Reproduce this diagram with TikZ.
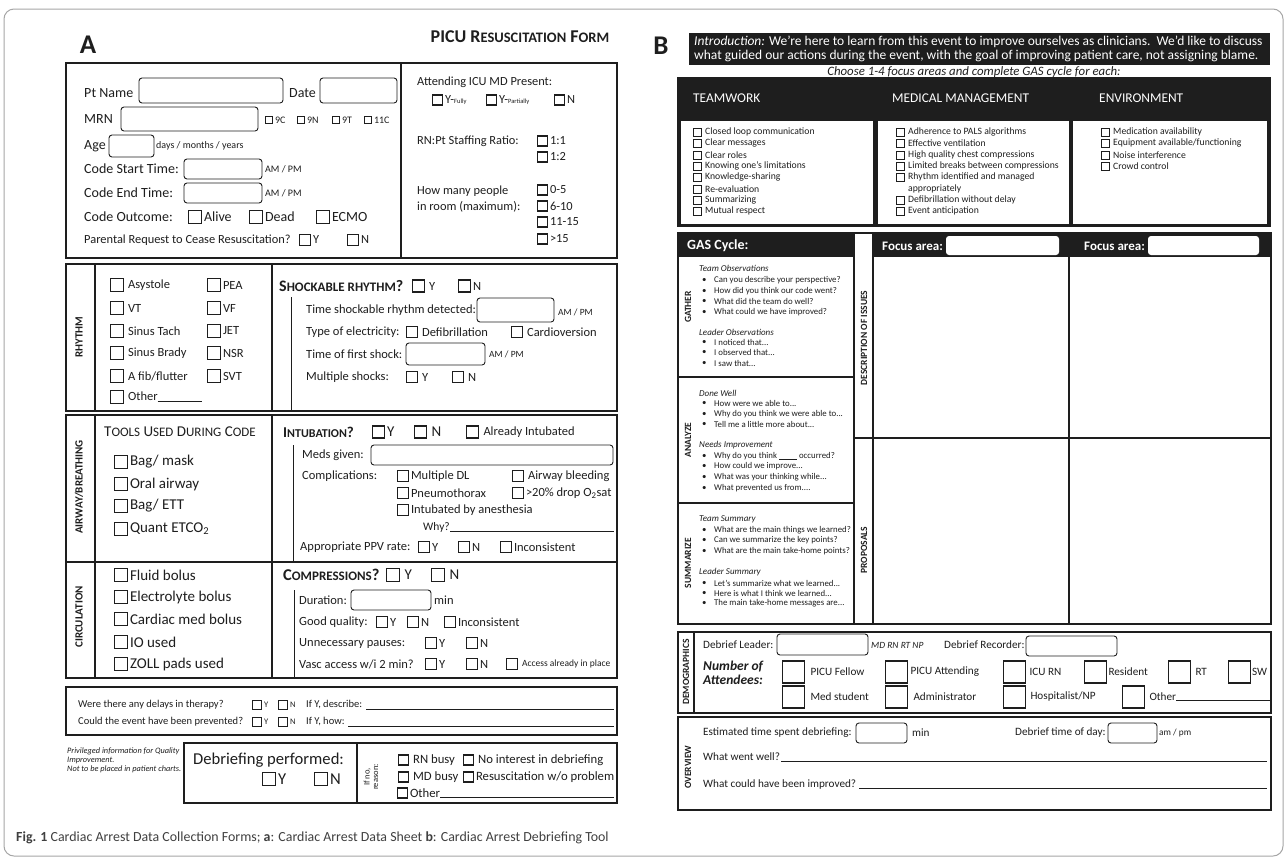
\documentclass[tikz,border=0pt]{standalone}
\usepackage{fontspec}
\setmainfont{Carlito}
\usepackage{xcolor}
\usepackage{tikz}

\definecolor{ink}{HTML}{1E1E1E}

\newcommand{\fz}[1]{\fontsize{#1}{#1}\selectfont}
\newcommand{\smc}[2]{{\fz{#1}#2}}
\newcommand{\chkbox}[4][9]{\node[ckb, minimum size=#1pt] (ck) at (#2,#3) {};
	\node[txt] at ([xshift=1.5pt]ck.east) {#4};}
\newcommand{\infield}[4]{\draw[fld] (#1,#2) rectangle (#3,#4);}
\newcommand{\blt}[2]{\node[txt] at (702,#1) {\textbullet}; \node[txt] at (714,#1) {#2};}

\tikzset{
	txt/.style={anchor=west, inner sep=0pt, text=ink},
	ckb/.style={draw=ink, line width=1.3pt, inner sep=0pt, anchor=west},
	fld/.style={draw=ink, line width=0.9pt, rounded corners=3pt},
	frm/.style={draw=ink, line width=1.6pt},
	side/.style={rotate=90, inner sep=0pt, text=ink, font=\bfseries\fz{11}},
	bigbox/.style={draw=ink, line width=1.3pt, inner sep=0pt, minimum size=22pt, anchor=west}
}

\begin{document}
\begin{tikzpicture}[x=1pt, y=-1pt]
				\useasboundingbox (0,0) rectangle (1287,860);
				\fill[white] (0,0) rectangle (1287,860);
				\draw[gray!70, line width=1pt, rounded corners=10pt] (4,9) rectangle (1283,856);
				
				%Form A
				\node[text=ink, font=\bfseries\fz{27}] at (88,45) {A};
				\node[text=ink, font=\bfseries\fz{18}] at (520,37) {PICU R\smc{14.5}{ESUSCITATION} F\smc{14.5}{ORM}};
				
				%Patient box
				\draw[frm] (66,63) rectangle (617,258);
				\draw[frm] (401,63) -- (401,258);
				\begin{scope}[font=\fz{14}]
					\node[txt] at (84,93) {Pt Name};
					\infield{139}{78}{283}{103}
					\node[txt] at (289,93) {Date};
					\infield{320}{78}{397}{103}
					\node[txt] at (84,119) {MRN};
					\infield{121}{107}{258}{131}
					\node[txt] at (84,146) {Age};
					\infield{109}{135}{154}{157}
					\node[txt] at (84,169) {Code Start Time:};
					\infield{184}{159}{262}{179}
					\node[txt] at (84,193) {Code End Time:};
					\infield{184}{183}{262}{203}
					\node[txt] at (84,217) {Code Outcome:};
					\chkbox[13]{188}{217}{Alive}
					\chkbox[13]{249}{217}{Dead}
					\chkbox[13]{316}{217}{ECMO}
				\end{scope}
				\begin{scope}[font=\fz{10}]
					\chkbox[7]{265}{120}{9C}
					\chkbox[7]{297}{120}{9N}
					\chkbox[7]{332}{120}{9T}
					\chkbox[7]{364}{120}{11C}
					\node[txt] at (156,146) {days / months / years};
					\node[txt] at (265,169) {AM / PM};
					\node[txt] at (265,193) {AM / PM};
				\end{scope}
				\begin{scope}[font=\fz{12.4}]
					\node[txt] at (84,240) {Parental Request to Cease Resuscitation?};
					\chkbox[11]{299}{240}{Y}
					\chkbox[11]{347}{240}{N}
				\end{scope}
				\begin{scope}[font=\fz{12.4}]
					\node[txt] at (417,82) {Attending ICU MD Present:};
					\chkbox[10]{432}{100}{Y-{\fz{6.5}Fully}}
					\chkbox[10]{486}{100}{Y-{\fz{6.5}Partially}}
					\chkbox[10]{554}{100}{N}
					\node[txt] at (417,141) {RN:Pt Staffing Ratio:};
					\chkbox[10]{537}{141}{1:1}
					\chkbox[10]{537}{157}{1:2}
					\node[txt] at (417,191) {How many people};
					\node[txt] at (417,207) {in room (maximum):};
					\chkbox[10]{537}{190}{0-5}
					\chkbox[10]{537}{206}{6-10}
					\chkbox[10]{537}{222}{11-15}
					\chkbox[10]{537}{239}{>15}
				\end{scope}
				
				%Rhythm
				\draw[frm] (66,264) rectangle (617,411);
				\draw[frm] (95,264) -- (95,411);
				\draw[frm, line width=2.4pt] (272,264) -- (272,411);
				\node[side] at (79,337) {RHYTHM};
				\begin{scope}[font=\fz{12.5}]
					\chkbox[13]{110}{285}{\,Asystole}
					\chkbox[13]{110}{308}{\,VT}
					\chkbox[13]{110}{331}{\,Sinus Tach}
					\chkbox[13]{110}{353}{\,Sinus Brady}
					\chkbox[13]{110}{376}{\,A fib/flutter}
					\chkbox[13]{110}{397}{\,Other\rule[-1pt]{44pt}{0.6pt}}
					\chkbox[13]{207}{285}{PEA}
					\chkbox[13]{207}{308}{VF}
					\chkbox[13]{207}{331}{JET}
					\chkbox[13]{207}{353}{NSR}
					\chkbox[13]{207}{376}{SVT}
					\node[txt, font=\bfseries\fz{16}] at (279,286) {S\smc{13}{HOCKABLE RHYTHM}?};
					\chkbox[12]{412}{286}{\,Y}
					\chkbox[12]{458}{286}{N}
				\end{scope}
				\draw[ink, line width=1pt] (291,297) -- (291,411);
				\begin{scope}[font=\fz{12.5}]
					\node[txt] at (306,310) {Time shockable rhythm detected:};
					\infield{477}{298}{554}{322}
					\node[txt, font=\fz{9.5}] at (558,312) {AM / PM};
					\node[txt] at (306,332) {Type of electricity:};
					\chkbox[11]{406}{332}{\,Defibrillation}
					\chkbox[11]{511}{332}{\,Cardioversion}
					\node[txt] at (306,354) {Time of first shock:};
					\infield{406}{343}{485}{365}
					\node[txt, font=\fz{9.5}] at (489,354) {AM / PM};
					\node[txt] at (306,377) {Multiple shocks:};
					\chkbox[11]{406}{377}{\,Y}
					\chkbox[11]{452}{377}{\,N}
				\end{scope}
				
				%Airway and circulation
				\draw[frm] (66,415) rectangle (617,678);
				\draw[frm] (66,562) -- (617,562);
				\draw[frm] (95,415) -- (95,678);
				\draw[frm, line width=2.4pt] (272,415) -- (272,678);
				\node[side] at (79,487) {AIRWAY/BREATHING};
				\node[side] at (79,617) {CIRCULATION};
				\begin{scope}[font=\fz{15}]
					\node[txt] at (104,432) {T\smc{13}{OOLS} U\smc{13}{SED} D\smc{13}{URING} C\smc{13}{ODE}};
					\chkbox[13]{114}{462}{Bag/ mask}
					\chkbox[13]{114}{484}{Oral airway}
					\chkbox[13]{114}{506}{Bag/ ETT}
					\chkbox[13]{114}{529}{Quant ETCO\textsubscript{2}}
					\chkbox[13]{114}{575}{Fluid bolus}
					\chkbox[13]{114}{597}{Electrolyte bolus}
					\chkbox[13]{114}{619}{Cardiac med bolus}
					\chkbox[13]{114}{642}{IO used}
					\chkbox[13]{114}{664}{ZOLL pads used}
					\node[txt, font=\bfseries\fz{15}] at (283,432) {I\smc{12}{NTUBATION}?};
					\chkbox[12]{372}{432}{Y}
					\chkbox[12]{414}{432}{\,N}
					\chkbox[12]{466}{432}{\,{\fz{12.5}Already Intubated}}
					\node[txt, font=\bfseries\fz{16.5}] at (283,575) {C\smc{13}{OMPRESSIONS}?};
					\chkbox[13]{386}{575}{\,Y}
					\chkbox[13]{431}{575}{\,N}
				\end{scope}
				\draw[ink, line width=1pt] (293,445) -- (293,562);
				\draw[ink, line width=1pt] (294,590) -- (294,678);
				\begin{scope}[font=\fz{12.5}]
					\node[txt] at (302,455) {Meds given:};
					\infield{371}{445}{613}{465}
					\node[txt] at (302,476) {Complications:};
					\chkbox[11]{397}{476}{Multiple DL}
					\chkbox[11]{512}{476}{\,Airway bleeding}
					\chkbox[11]{397}{493}{Pneumothorax}
					\chkbox[11]{512}{493}{>20\% drop O\textsubscript{2}sat}
					\chkbox[11]{397}{510}{Intubated by anesthesia}
					\node[txt, font=\fz{11.5}] at (423,527) {Why?};
					\draw[ink, line width=0.6pt] (450,531) -- (614,531);
					\node[txt] at (300,547) {Appropriate PPV rate:};
					\chkbox[11]{418}{547}{Y}
					\chkbox[11]{458}{547}{N}
					\chkbox[11]{500}{547}{Inconsistent}
					\node[txt] at (299,600) {Duration:};
					\infield{351}{590}{431}{610}
					\node[txt] at (434,600) {min};
					\node[txt] at (299,622) {Good quality:};
					\chkbox[11]{376}{622}{Y}
					\chkbox[11]{407}{622}{N}
					\chkbox[11]{444}{622}{Inconsistent}
					\node[txt] at (299,643) {Unnecessary pauses:};
					\chkbox[11]{425}{643}{Y}
					\chkbox[11]{466}{643}{N}
					\node[txt] at (299,664) {Vasc access w/i 2 min?};
					\chkbox[11]{425}{664}{Y}
					\chkbox[11]{466}{664}{N}
					\chkbox[11]{506}{664}{\,{\fz{9.5}Access already in place}}
				\end{scope}
				
				%Delays
				\draw[frm] (66,687) rectangle (617,735);
				\begin{scope}[font=\fz{10.5}]
					\node[txt] at (78,705) {Were there any delays in therapy?};
					\chkbox[9]{252}{705}{{\fz{8.5}Y}}
					\chkbox[9]{278}{705}{{\fz{8.5}N}}
					\node[txt] at (306,705) {If Y, describe:};
					\draw[ink, line width=0.6pt] (366,709) -- (614,709);
					\node[txt] at (78,722) {Could the event have been prevented?};
					\chkbox[9]{252}{722}{{\fz{8.5}Y}}
					\chkbox[9]{278}{722}{{\fz{8.5}N}}
					\node[txt] at (306,722) {If Y, how:};
					\draw[ink, line width=0.6pt] (348,726) -- (614,726);
				\end{scope}
				
				%Debriefing
				\begin{scope}[font=\itshape\fz{8.3}]
					\node[txt] at (67,751) {Privileged information for Quality};
					\node[txt] at (67,760) {Improvement.};
					\node[txt] at (67,769) {Not to be placed in patient charts.};
				\end{scope}
				\draw[frm, line width=2.4pt] (184,743) rectangle (617,803);
				\draw[frm] (357,743) -- (357,803);
				\begin{scope}[font=\fz{16.6}]
					\node[txt] at (193,760) {Debriefing performed:};
					\chkbox[13]{262}{779}{Y}
					\chkbox[13]{314}{779}{N}
				\end{scope}
				\node[rotate=90, align=center, inner sep=0pt, text=ink, font=\fz{8.5}] at (371,777) {If no,\\reason:};
				\begin{scope}[font=\fz{12.7}]
					\chkbox[10]{398}{760}{\,RN busy}
					\chkbox[10]{463}{760}{\,No interest in debriefing}
					\chkbox[10]{398}{777}{\,MD busy}
					\chkbox[10]{463}{777}{Resuscitation w/o problem}
					\chkbox[10]{397}{793}{Other}
					\draw[ink, line width=0.6pt] (440,797) -- (614,797);
				\end{scope}
				
				%Form B
				\node[text=ink, font=\bfseries\fz{27}] at (661,46) {B};
				\fill[ink] (689,33) rectangle (1270,65);
				\begin{scope}[font=\fz{13.5}]
					\node[txt, text=white] at (694,42) {\textit{Introduction:} We're here to learn from this event to improve ourselves as clinicians.\ \ We'd like to discuss};
					\node[txt, text=white] at (694,56) {what guided our actions during the event, with the goal of improving patient care, not assigning blame.};
				\end{scope}
				\node[text=ink, inner sep=0pt, font=\itshape\fz{12.8}] at (974,72) {Choose 1-4 focus areas and complete GAS cycle for each:};
				
				%Focus area lists
				\fill[ink] (677,77) rectangle (1271,227);
				\fill[white] (681,121) rectangle (873,224);
				\fill[white] (878,121) rectangle (1069,224);
				\fill[white] (1073,121) rectangle (1267,224);
				\begin{scope}[font=\fz{13.4}]
					\node[txt, text=white] at (693,98) {TEAMWORK};
					\node[txt, text=white] at (892,98) {MEDICAL MANAGEMENT};
					\node[txt, text=white] at (1099,98) {ENVIRONMENT};
				\end{scope}
				\begin{scope}[font=\fz{9.7}, ckb/.append style={line width=0.9pt}]
					\chkbox[8]{693}{132}{\,Closed loop communication}
					\chkbox[8]{693}{143}{\,Clear messages}
					\chkbox[8]{693}{155}{\,Clear roles}
					\chkbox[8]{693}{166}{\,Knowing one's limitations}
					\chkbox[8]{693}{177}{\,Knowledge-sharing}
					\chkbox[8]{693}{189}{\,Re-evaluation}
					\chkbox[8]{693}{200}{\,Summarizing}
					\chkbox[8]{693}{211}{\,Mutual respect}
					\chkbox[8]{896}{132}{\,Adherence to PALS algorithms}
					\chkbox[8]{896}{143}{\,Effective ventilation}
					\chkbox[8]{896}{155}{\,High quality chest compressions}
					\chkbox[8]{896}{166}{\,Limited breaks between compressions}
					\chkbox[8]{896}{177}{\,Rhythm identified and managed}
					\node[txt] at (908,189) {appropriately};
					\chkbox[8]{896}{200}{\,Defibrillation without delay}
					\chkbox[8]{896}{211}{\,Event anticipation}
					\chkbox[8]{1101}{132}{\,Medication availability}
					\chkbox[8]{1101}{143}{\,Equipment available/functioning}
					\chkbox[8]{1101}{155}{\,Noise interference}
					\chkbox[8]{1101}{166}{\,Crowd control}
				\end{scope}
				
				%GAS cycle
				\fill[ink] (678,233) rectangle (854,257);
				\fill[ink] (873,233) rectangle (1271,257);
				\node[txt, text=white, font=\bfseries\fz{14}] at (687,246) {GAS Cycle:};
				\node[txt, text=white, font=\bfseries\fz{13}] at (882,246) {Focus area:};
				\fill[white, rounded corners=3pt] (946,236) rectangle (1059,255);
				\node[txt, text=white, font=\bfseries\fz{13}] at (1084,246) {Focus area:};
				\fill[white, rounded corners=3pt] (1148,236) rectangle (1259,255);
				\draw[frm] (678,233) rectangle (1271,624);
				\draw[frm] (854,233) -- (854,624);
				\draw[frm] (873,233) -- (873,624);
				\draw[frm] (1069,233) -- (1069,624);
				\draw[frm] (678,377) -- (854,377);
				\draw[frm] (678,503) -- (854,503);
				\draw[frm] (854,438) -- (1271,438);
				\node[side, font=\bfseries\fz{9.5}] at (688,307) {GATHER};
				\node[side, font=\bfseries\fz{9.5}] at (688,440) {ANALYZE};
				\node[side, font=\bfseries\fz{9.5}] at (688,563) {SUMMARIZE};
				\node[side, font=\bfseries\fz{9.5}] at (864,338) {DESCRIPTION OF ISSUES};
				\node[side, font=\bfseries\fz{9.5}] at (864,550) {PROPOSALS};
				\begin{scope}[font=\fz{8.8}]
					\node[txt, font=\itshape\fz{9}] at (699,268) {Team Observations};
					\blt{280}{Can you describe your perspective?}
					\blt{291}{How did you think our code went?}
					\blt{301}{What did the team do well?}
					\blt{312}{What could we have improved?}
					\node[txt, font=\itshape\fz{9}] at (699,332) {Leader Observations};
					\blt{342}{I noticed that...}
					\blt{352}{I observed that...}
					\blt{363}{I saw that...}
					\node[txt, font=\itshape\fz{9}] at (699,393) {Done Well};
					\blt{403}{How were we able to...}
					\blt{414}{Why do you think we were able to...}
					\blt{424}{Tell me a little more about...}
					\node[txt, font=\itshape\fz{9}] at (699,445) {Needs Improvement};
					\blt{456}{Why do you think \rule[-1pt]{18pt}{0.5pt} occurred?}
					\blt{466}{How could we improve...}
					\blt{477}{What was your thinking while...}
					\blt{488}{What prevented us from....}
					\node[txt, font=\itshape\fz{9}] at (699,519) {Team Summary};
					\blt{530}{What are the main things we learned?}
					\blt{540}{Can we summarize the key points?}
					\blt{551}{What are the main take-home points?}
					\node[txt, font=\itshape\fz{9}] at (699,572) {Leader Summary};
					\blt{583}{Let's summarize what we learned...}
					\blt{593}{Here is what I think we learned...}
					\blt{603}{The main take-home messages are...}
				\end{scope}
				
				%Demographics
				\draw[frm] (678,632) rectangle (1271,713);
				\draw[frm] (694,632) -- (694,713);
				\node[side, font=\bfseries\fz{9.5}] at (686,672) {DEMOGRAPHICS};
				\begin{scope}[font=\fz{11.2}]
					\node[txt] at (703,645) {Debrief Leader:};
					\infield{777}{634}{868}{655}
					\node[txt, font=\itshape\fz{9.5}] at (871,645) {MD RN RT NP};
					\node[txt] at (944,645) {Debrief Recorder:};
					\infield{1026}{636}{1117}{656}
					\node[txt, font=\bfseries\itshape\fz{13.5}] at (703,667) {Number of};
					\node[txt, font=\bfseries\itshape\fz{13.5}] at (703,680) {Attendees:};
					\node[bigbox] (pf) at (782,672) {};
					\node[txt] at ([xshift=5pt]pf.east) {PICU Fellow};
					\node[bigbox] (pa) at (885,672) {};
					\node[txt] at ([xshift=2pt]pa.east) {PICU Attending};
					\node[bigbox] (icu) at (1003,672) {};
					\node[txt] at ([xshift=3pt]icu.east) {ICU RN};
					\node[bigbox] (res) at (1084,672) {};
					\node[txt] at ([xshift=1pt]res.east) {Resident};
					\node[bigbox] (rt) at (1168,672) {};
					\node[txt] at ([xshift=4pt]rt.east) {RT};
					\node[bigbox] (sw) at (1228,672) {};
					\node[txt] at ([xshift=0.5pt]sw.east) {SW};
					\node[bigbox] (ms) at (782,697) {};
					\node[txt] at ([xshift=5pt]ms.east) {Med student};
					\node[bigbox] (adm) at (885,697) {};
					\node[txt] at ([xshift=5pt]adm.east) {Administrator};
					\node[bigbox] (hos) at (1003,697) {};
					\node[txt] at ([xshift=4pt]hos.east) {Hospitalist/NP};
					\node[bigbox] (oth) at (1122,697) {};
					\node[txt] (othl) at ([xshift=4pt]oth.east) {Other};
					\draw[ink, line width=0.6pt] ([yshift=1pt]othl.base east) -- ++(1267-1173,0);
				\end{scope}
				
				%Overview
				\draw[frm] (678,717) rectangle (1271,810);
				\node[side, font=\bfseries\fz{9.5}] at (688,767) {OVERVIEW};
				\begin{scope}[font=\fz{11.2}]
					\node[txt] at (703,733) {Estimated time spent debriefing:};
					\infield{856}{723}{907}{743}
					\node[txt] at (912,733) {min};
					\node[txt] at (1015,733) {Debrief time of day:};
					\infield{1108}{723}{1157}{743}
					\node[txt, font=\fz{9.3}] at (1159,733) {am / pm};
					\node[txt] at (703,757) {What went well?};
					\draw[ink, line width=0.6pt] (781,761) -- (1267,761);
					\node[txt] at (703,784) {What could have been improved?};
					\draw[ink, line width=0.6pt] (859,788) -- (1267,788);
				\end{scope}
				
				%Caption
				\node[txt, text=ink!85, font=\fz{13.9}] at (16,838) {\textbf{Fig. 1} Cardiac Arrest Data Collection Forms; \textbf{a}: Cardiac Arrest Data Sheet \textbf{b}: Cardiac Arrest Debriefing Tool};
			\end{tikzpicture}
\end{document}
